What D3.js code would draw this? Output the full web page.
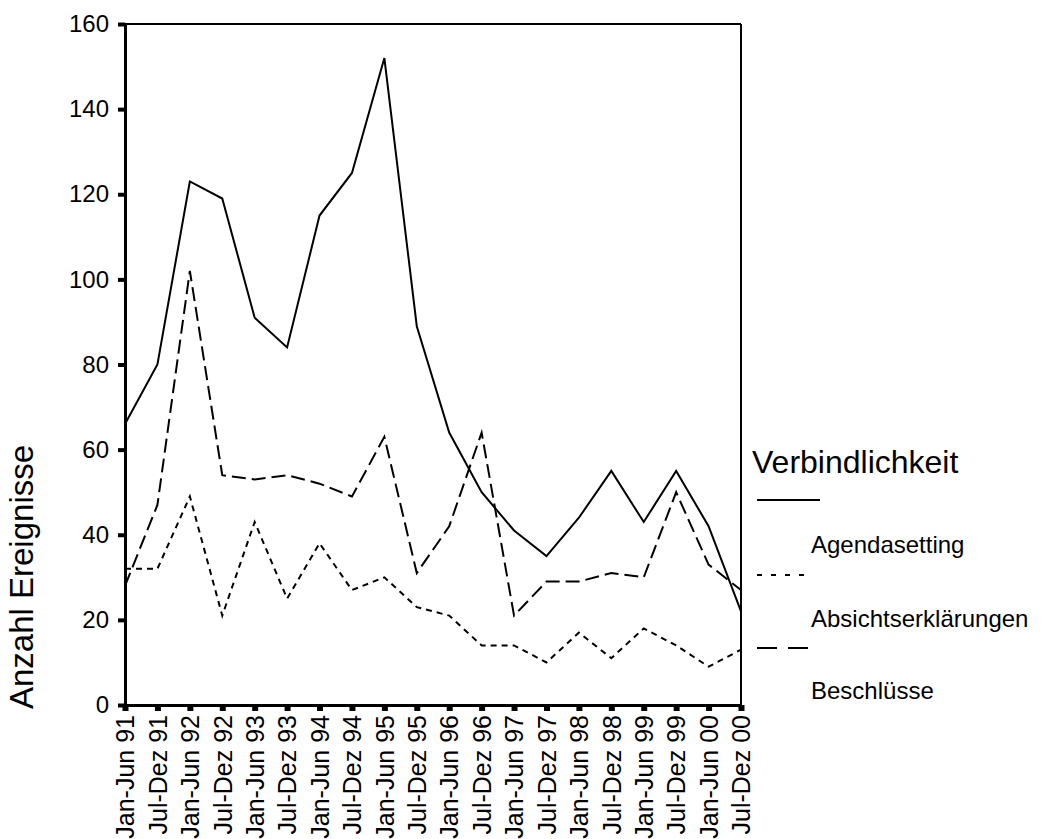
<!DOCTYPE html>
<html><head><meta charset="utf-8">
<script src="https://cdn.jsdelivr.net/npm/d3@7"></script>
<style>body{margin:0;background:#fff}svg{display:block;font-family:"Liberation Sans",Arial,sans-serif}</style>
</head><body><svg id="c" width="1044" height="839"></svg>
<script>
const categories = ["Jan-Jun 91","Jul-Dez 91","Jan-Jun 92","Jul-Dez 92","Jan-Jun 93","Jul-Dez 93","Jan-Jun 94","Jul-Dez 94","Jan-Jun 95","Jul-Dez 95","Jan-Jun 96","Jul-Dez 96","Jan-Jun 97","Jul-Dez 97","Jan-Jun 98","Jul-Dez 98","Jan-Jun 99","Jul-Dez 99","Jan-Jun 00","Jul-Dez 00"];
const agendasetting = [66,80,123,119,91,84,115,125,152,89,64,50,41,35,44,55,43,55,42,22];
const absichtserklaerungen = [32,32,49,21,43,25,38,27,30,23,21,14,14,10,17,11,18,14,9,13];
const beschluesse = [28,47,102,54,53,54,52,49,63,31,42,64,21,29,29,31,30,50,33,27];
const yTicks = [0,20,40,60,80,100,120,140,160];
const seriesNames = ["Agendasetting","Absichtserklärungen","Beschlüsse"];
const legendTitle = "Verbindlichkeit";
const yTitle = "Anzahl Ereignisse";

const svg = d3.select("#c");
const x = d3.scalePoint().domain(categories).range([125, 741]);
const y = d3.scaleLinear().domain([0,160]).range([705, 24]);

const series = [
  {name: seriesNames[0], values: agendasetting, dash: null, ldash: null},
  {name: seriesNames[1], values: absichtserklaerungen, dash: "6,5", ldash: "5,9"},
  {name: seriesNames[2], values: beschluesse, dash: "14,6", ldash: "20,11"}
];

// frame
svg.append("line").attr("x1",125).attr("x2",741).attr("y1",y(160)).attr("y2",y(160)).attr("stroke","#000").attr("stroke-width",2);
svg.append("line").attr("x1",741).attr("x2",741).attr("y1",y(160)).attr("y2",y(0)).attr("stroke","#000").attr("stroke-width",2);

// lines
const line = d3.line().x((d,i)=>x(categories[i])).y(d=>y(d));
series.forEach(s=>{
  svg.append("path").datum(s.values).attr("d",line).attr("fill","none")
    .attr("stroke","#000").attr("stroke-width",2).attr("stroke-dasharray",s.dash);
});

// axes
const yAxis = svg.append("g").attr("transform","translate(125,0)")
  .call(d3.axisLeft(y).tickValues(yTicks).tickSize(7).tickPadding(9));
yAxis.select(".domain").attr("stroke-width",3);
yAxis.selectAll(".tick line").attr("stroke-width",4);
yAxis.selectAll(".tick text").attr("font-size",24).attr("fill","#000");

const xAxis = svg.append("g").attr("transform","translate(0,705)")
  .call(d3.axisBottom(x).tickSize(6).tickSizeOuter(0).tickPadding(9));
xAxis.select(".domain").attr("stroke-width",3);
xAxis.selectAll(".tick line").attr("stroke-width",6);
xAxis.selectAll(".tick text").attr("font-size",25).attr("fill","#000")
  .attr("transform","rotate(-90)").attr("text-anchor","end")
  .attr("x",-10).attr("y",0).attr("dy","0.35em");

// y title
svg.append("text").attr("transform","translate(33,577) rotate(-90)")
  .attr("text-anchor","middle").attr("font-size",33).text(yTitle);

// legend
svg.append("text").attr("x",752).attr("y",473).attr("font-size",32).text(legendTitle);
const lineY = [500,575,648];
const labY = [553,627,699];
series.forEach((s,i)=>{
  svg.append("line").attr("x1",757).attr("x2",i===0?820:812).attr("y1",lineY[i]).attr("y2",lineY[i])
    .attr("stroke","#000").attr("stroke-width",2).attr("stroke-dasharray",s.ldash);
  svg.append("text").attr("x",811).attr("y",labY[i]).attr("font-size",24).text(s.name);
});
</script></body></html>
